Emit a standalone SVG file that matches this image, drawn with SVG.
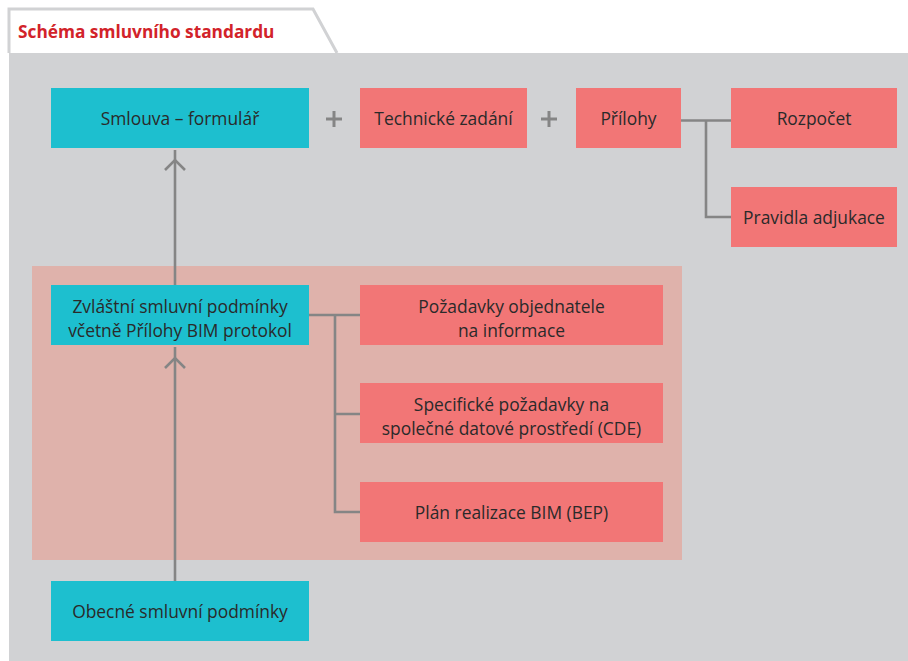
<svg xmlns="http://www.w3.org/2000/svg" width="908" height="661" viewBox="0 0 908 661">
<style>
  .lbl{font-family:"Open Sans","Noto Sans","Liberation Sans",sans-serif;font-size:17.4px;fill:#2a2a2a;text-anchor:middle}
  .cyan{fill:#1dbfcf}
  .red{fill:#f27676}
  .ln{stroke:#858585;stroke-width:2.6;fill:none}
  .plus{stroke:#858585;stroke-width:3}
</style>
<rect x="0" y="0" width="908" height="661" fill="#ffffff"/>
<rect x="9" y="53" width="899" height="608" fill="#d1d2d4"/>
<path d="M9,53 V9 H313 L337,53" fill="#ffffff" stroke="#d1d2d4" stroke-width="3"/>
<text x="18" y="38" font-family="'Open Sans','Liberation Sans',sans-serif" font-size="17.3" font-weight="bold" fill="#d2232a">Schéma smluvního standardu</text>
<rect x="32" y="266" width="650" height="294" fill="#dfb2ab"/>

<g id="connectors">
  <path class="ln" d="M681,120.5 H731 M706,120.5 V217 H731"/>
  <path class="ln" d="M309,315 H360 M335,315 V512 H360 M335,414 H360"/>
  <path class="ln" d="M175,581 V347"/>
  <path class="ln" d="M165,368 L175,358 L185,368"/>
  <path class="ln" d="M175,285 V150"/>
  <path class="ln" d="M165,170 L175,160 L185,170"/>
  <path class="plus" d="M326,119 H342 M334,111 V127 M541,119 H557 M549,111 V127"/>
</g>

<g id="smlouva"><rect class="cyan" x="51" y="88" width="258" height="60"/><text class="lbl" x="180" y="124.5">Smlouva – formulář</text></g>
<g id="technicke"><rect class="red" x="360" y="88" width="167" height="60"/><text class="lbl" x="443.5" y="124.5">Technické zadání</text></g>
<g id="prilohy"><rect class="red" x="576" y="88" width="105" height="60"/><text class="lbl" x="628.5" y="124.5">Přílohy</text></g>
<g id="rozpocet"><rect class="red" x="731" y="88" width="166" height="60"/><text class="lbl" x="814" y="124.5">Rozpočet</text></g>
<g id="pravidla"><rect class="red" x="731" y="187" width="166" height="60"/><text class="lbl" x="814" y="224">Pravidla adjukace</text></g>
<g id="zvlastni"><rect class="cyan" x="51" y="285" width="258" height="60"/><text class="lbl" x="180" y="312.5">Zvláštní smluvní podmínky</text><text class="lbl" x="180" y="336.5">včetně Přílohy BIM protokol</text></g>
<g id="pozadavky"><rect class="red" x="360" y="285" width="303" height="60"/><text class="lbl" x="511.5" y="312.5">Požadavky objednatele</text><text class="lbl" x="511.5" y="336.5">na informace</text></g>
<g id="specificke"><rect class="red" x="360" y="383" width="303" height="60"/><text class="lbl" x="511.5" y="410.5">Specifické požadavky na</text><text class="lbl" x="511.5" y="434.5">společné datové prostředí (CDE)</text></g>
<g id="plan"><rect class="red" x="360" y="482" width="303" height="60"/><text class="lbl" x="511.5" y="518.5">Plán realizace BIM (BEP)</text></g>
<g id="obecne"><rect class="cyan" x="51" y="581" width="258" height="60"/><text class="lbl" x="180" y="617.5">Obecné smluvní podmínky</text></g>
</svg>
